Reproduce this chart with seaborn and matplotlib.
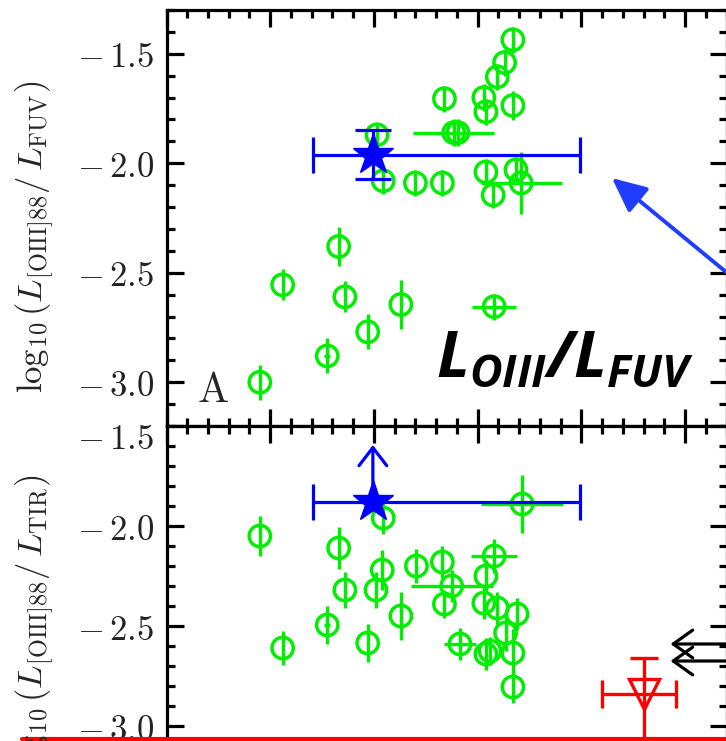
import numpy as np
import pandas as pd
import matplotlib
matplotlib.use("Agg")
import matplotlib.pyplot as plt
from matplotlib.lines import Line2D
from matplotlib.ticker import MultipleLocator, FixedLocator, FuncFormatter
import seaborn as sns

# ---------------- data ----------------
top_x = [0.90, 1.12, 1.66, 1.72, 1.55, 1.94, 2.26, 3.16, 2.03, 2.09, 2.40, 2.66, 2.68,
         2.77, 2.81, 3.06, 3.08, 3.08, 3.15, 3.37, 3.42, 3.19, 3.26, 3.34, 3.34]
top_y = [-3.00, -2.555, -2.38, -2.61, -2.88, -2.77, -2.645, -2.655, -1.87, -2.08, -2.09,
         -2.09, -1.705, -1.86, -1.86, -1.70, -1.765, -2.04, -2.145, -2.03, -2.09, -1.605,
         -1.54, -1.436, -1.736]
top_xerr = [0, 0, 0, 0, 0.03, 0, 0, 0.21, 0, 0, 0, 0, 0, 0.39, 0, 0, 0, 0, 0, 0, 0.39,
            0, 0, 0, 0]
top_yerr = [0.08, 0.07, 0.09, 0.07, 0.08, 0.08, 0.11, 0.06, 0.055, 0.06, 0.06, 0.06, 0.06,
            0.06, 0.06, 0.06, 0.06, 0.06, 0.06, 0.06, 0.14, 0.06, 0.06, 0.06, 0.065]

bot_x = [0.90, 1.12, 1.66, 1.72, 1.55, 1.94, 2.09, 2.08, 2.02, 2.26, 2.41, 2.66, 2.68,
         2.75, 2.83, 3.16, 3.08, 3.06, 3.19, 3.38, 3.27, 3.08, 3.12, 3.34, 3.34, 3.43]
bot_y = [-2.05, -2.61, -2.11, -2.32, -2.495, -2.585, -1.96, -2.22, -2.32, -2.45, -2.20,
         -2.18, -2.39, -2.30, -2.59, -2.15, -2.25, -2.385, -2.41, -2.44, -2.535, -2.64,
         -2.625, -2.635, -2.805, -1.89]
bot_xerr = [0, 0, 0, 0, 0.03, 0, 0, 0, 0, 0, 0, 0, 0, 0.395, 0.155, 0.22, 0, 0, 0, 0, 0,
            0, 0, 0, 0, 0.395]
bot_yerr = [0.10, 0.085, 0.105, 0.09, 0.095, 0.095, 0.08, 0.10, 0.09, 0.12, 0.085, 0.08,
            0.07, 0.08, 0.08, 0.085, 0.08, 0.08, 0.08, 0.08, 0.09, 0.08, 0.07, 0.12, 0.08,
            0.145]

star_x = 1.99
star_y_fuv = -1.96
star_y_tir = -1.88
star_xerr_lo = 0.58
star_xerr_hi = 2.00
star_yerr_fuv = 0.11
star_tir_limit = -1.595

red_x = 4.60
red_y = -2.84
red_xerr = [0.405, 0.31]
red_yerr = [0.60, 0.18]

black_arrow_y = [-2.59, -2.675]
black_arrow_tip = 4.86

yticks = [-3.0, -2.5, -2.0, -1.5]

GREEN = "#00ee00"
BLUE = "#0000ff"
ARROW_BLUE = "#1f3cff"
RED = "#ff0000"

# ---------------- style ----------------
sns.set_style("ticks")
plt.rcParams["mathtext.fontset"] = "cm"
plt.rcParams["mathtext.rm"] = "Open Sans:italic:bold"
plt.rcParams["mathtext.it"] = "Open Sans:italic:bold"
plt.rcParams["mathtext.bf"] = "Open Sans:italic:bold"

W, H = 726, 741
fig = plt.figure(figsize=(W / 100, H / 100), dpi=100)

left = 166.5 / W
width = 560.0 / W
ax1 = fig.add_axes([left, 1 - 426 / H, width, (426 - 10) / H])
ax2 = fig.add_axes([left, 1 - 806 / H, width, (806 - 426) / H])


def tick_text(v):
    return r"$-\,%.1f$" % abs(v)


fmt = FuncFormatter(lambda v, p: tick_text(v))
TICK_FS = 25

for ax in (ax1, ax2):
    ax.set_xlim(0, 5.4)
    ax.xaxis.set_major_locator(MultipleLocator(1.0))
    ax.xaxis.set_minor_locator(MultipleLocator(0.2))
    ax.yaxis.set_minor_locator(MultipleLocator(0.1))
    ax.tick_params(which="both", direction="in", top=True, right=True, bottom=True,
                   left=True, width=2.3, color="black", labelbottom=False,
                   labelsize=TICK_FS, labelcolor="#222222", pad=9)
    ax.tick_params(which="major", length=12)
    ax.tick_params(which="minor", length=5.8)
    for s in ax.spines.values():
        s.set_linewidth(2.3)
        s.set_color("black")
    ax.set_xlabel("")
    ax.set_ylabel("")

ax1.set_ylim(-3.2, -1.3)
ax2.set_ylim(-3.4, -1.5)
ax1.yaxis.set_major_locator(FixedLocator(yticks))
ax1.yaxis.set_major_formatter(fmt)
ax2.yaxis.set_major_locator(FixedLocator(yticks))
ax2.yaxis.set_major_formatter(FuncFormatter(lambda v, p: "" if v > -1.6 else tick_text(v)))
ax2.annotate(tick_text(-1.5), xy=(0, -1.5), xycoords=("axes fraction", "data"),
             xytext=(-9, -9), textcoords="offset points", ha="right", va="center",
             fontsize=TICK_FS, color="#222222", annotation_clip=False)

# ---------------- top panel ----------------
ax1.errorbar(top_x, top_y, xerr=top_xerr, yerr=top_yerr, fmt="none", ecolor=GREEN,
             elinewidth=2.4, capsize=0, zorder=2)
sns.scatterplot(x=top_x, y=top_y, ax=ax1, marker="o", s=235, linewidth=2.5,
                zorder=3, legend=False)
c = ax1.collections[-1]
c.set_facecolor("none")
c.set_edgecolor(GREEN)

ax1.errorbar([star_x], [star_y_fuv], xerr=[[star_xerr_lo], [star_xerr_hi]],
             yerr=[[star_yerr_fuv], [star_yerr_fuv]], fmt="*", color=BLUE, ms=31,
             elinewidth=2.3, capsize=13, capthick=2.3, zorder=5)

ax1.text(0.29, -3.09, r"$\mathrm{A}$", fontsize=30, ha="left", va="baseline")

ax1.text(2.60, -2.973, r"$L_{OIII}/L_{FUV}$", fontsize=46, ha="left", va="baseline",
         math_fontfamily="custom", color="black", zorder=6)

ax1.annotate("", xy=(4.296, -2.068), xytext=(5.72, -2.623),
             arrowprops=dict(arrowstyle="-|>,head_length=1.5,head_width=0.7",
                             color=ARROW_BLUE, lw=2.8, mutation_scale=14,
                             shrinkA=0, shrinkB=0),
             annotation_clip=False, zorder=6)

# ---------------- bottom panel ----------------
ax2.errorbar(bot_x, bot_y, xerr=bot_xerr, yerr=bot_yerr, fmt="none", ecolor=GREEN,
             elinewidth=2.4, capsize=0, zorder=2)
sns.scatterplot(x=bot_x, y=bot_y, ax=ax2, marker="o", s=235, linewidth=2.5,
                zorder=3, legend=False)
c = ax2.collections[-1]
c.set_facecolor("none")
c.set_edgecolor(GREEN)

ax2.errorbar([star_x], [star_y_tir], xerr=[[star_xerr_lo], [star_xerr_hi]], fmt="*",
             color=BLUE, ms=31, elinewidth=2.3, capsize=13, capthick=2.3, zorder=5)
ax2.annotate("", xy=(star_x, star_tir_limit), xytext=(star_x, star_y_tir),
             arrowprops=dict(arrowstyle="->,head_length=0.65,head_width=0.5",
                             color=BLUE, lw=2.3, mutation_scale=20,
                             shrinkA=0, shrinkB=0), zorder=5)

ax2.errorbar([red_x], [red_y], xerr=[[red_xerr[0]], [red_xerr[1]]],
             yerr=[[red_yerr[0]], [red_yerr[1]]], fmt="v", mfc="none", mec=RED,
             mew=2.4, ms=21, ecolor=RED, elinewidth=2.4, capsize=10, capthick=2.4,
             zorder=4)

for yy in black_arrow_y:
    ax2.annotate("", xy=(black_arrow_tip, yy), xytext=(5.6, yy),
                 arrowprops=dict(arrowstyle="->,head_length=0.7,head_width=0.5",
                                 color="black", lw=2.3, mutation_scale=20,
                                 shrinkA=0, shrinkB=0),
                 annotation_clip=False, zorder=5)

# ---------------- y labels ----------------
fig.text(35 / W, 1 - 237 / H, r"$\log_{10}(L_{\rm [OIII]88}/\,L_{\rm FUV})$",
         rotation=90, ha="center", va="center", fontsize=25)
fig.text(35 / W, 1 - 627 / H, r"$\log_{10}(L_{\rm [OIII]88}/\,L_{\rm TIR})$",
         rotation=90, ha="center", va="center", fontsize=25)

# red border remnant along the bottom edge
fig.add_artist(Line2D([22 / W, 1.0], [2.0 / H, 2.0 / H], transform=fig.transFigure,
                      color=RED, lw=3.0, ls="-"))

fig.savefig("out.png", dpi=100)
